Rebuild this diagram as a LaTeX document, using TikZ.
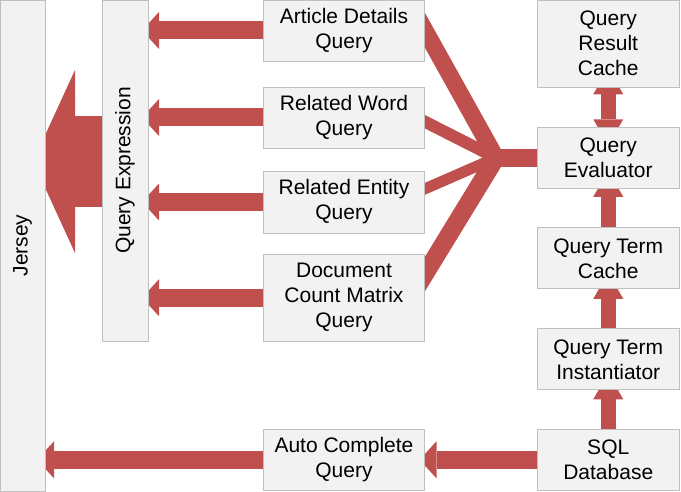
\documentclass[tikz,border=0pt]{standalone}
\usepackage{fontspec}
\setmainfont{Liberation Sans}
\usepackage{graphicx}
\usepackage{tikz}
\usetikzlibrary{arrows.meta, positioning}
\definecolor{arrowred}{HTML}{C0504D}
\definecolor{boxfill}{HTML}{F2F2F2}
\definecolor{boxline}{HTML}{BFBFBF}
\pgfdeclarelayer{bg}
\pgfsetlayers{bg,main}

\begin{document}
\begin{tikzpicture}[
    x=1pt, y=-1pt,
    every node/.style={font=\fontsize{21}{25}\selectfont},
    box/.style={rectangle, draw=boxline, line width=0.8pt, fill=boxfill, outer sep=0pt, inner sep=2pt, align=center},
    midbox/.style={box, minimum width=161pt, minimum height=61pt},
    rightbox/.style={box, minimum width=142.5pt, minimum height=61pt},
    arrow/.style={draw=arrowred, line width=18pt, -{Triangle[length=17pt, width=37pt, line width=0pt]}},
    uparrow/.style={draw=arrowred, line width=15pt, -{Triangle[length=26pt, width=30pt, line width=0pt]}},
    dblarrow/.style={draw=arrowred, line width=15pt, {Triangle[length=26pt, width=30pt, line width=0pt]}-{Triangle[length=26pt, width=30pt, line width=0pt]}},
    bigarrow/.style={draw=arrowred, line width=91pt, -{Triangle[length=42pt, width=183pt, line width=0pt]}},
    fan/.style={draw=arrowred, line cap=butt}
]
    \useasboundingbox (0,0) rectangle (681,492);

    % Left columns
    \node[box, minimum width=45pt, minimum height=491pt] (jersey) at (22.5,245.5) {\rotatebox{90}{Jersey}};
    \node[box, minimum width=46pt, minimum height=341pt] (qexpr) at (125,170.5) {\rotatebox{90}{Query Expression}};

    % Query column
    \node[midbox] (adq) at (344,30.5) {Article Details\\Query};
    \node[midbox, below=26pt of adq] (rwq) {Related Word\\Query};
    \node[midbox, below=23pt of rwq, minimum height=62pt] (req) {Related Entity\\Query};
    \node[midbox, below=21.5pt of req, minimum height=86.5pt] (dcq) {Document\\Count Matrix\\Query};

    % Evaluator column
    \node[rightbox, minimum height=87.3pt] (qrc) at (608.25,43.65) {Query\\Result\\Cache};
    \node[rightbox, below=40pt of qrc] (qeval) {Query\\Evaluator};
    \node[rightbox, below=39.5pt of qeval] (qtc) {Query Term\\Cache};
    \node[rightbox, below=40pt of qtc] (qti) {Query Term\\Instantiator};
    \node[rightbox, below=39.5pt of qti] (sql) {SQL\\Database};
    \node[midbox, left=112.5pt of sql] (acq) {Auto Complete\\Query};

    \coordinate (hub) at ([xshift=-41pt]qeval.west);

    \begin{pgfonlayer}{bg}
    % Arrows into Query Expression
    \draw[arrow, shorten >=-6pt] (adq.west) -- (adq.west -| qexpr.east);
    \draw[arrow, shorten >=-6pt] (rwq.west) -- (rwq.west -| qexpr.east);
    \draw[arrow, shorten >=-6pt] (req.west) -- (req.west -| qexpr.east);
    \draw[arrow, shorten >=-6pt] (dcq.west) -- (dcq.west -| qexpr.east);
    \draw[bigarrow, shorten >=-12pt] ([yshift=9pt]qexpr.west) -- ([yshift=9pt]qexpr.west -| jersey.east);

    % Fan from the evaluator
    \draw[fan, line width=17pt, shorten <=-20pt] ([yshift=1pt]adq.east) -- (hub);
    \draw[fan, line width=12pt, shorten <=-20pt] ([yshift=-4pt]rwq.east) -- (hub);
    \draw[fan, line width=11pt, shorten <=-20pt] ([yshift=13pt]req.east) -- (hub);
    \draw[fan, line width=18pt, shorten <=-20pt] ([yshift=23pt]dcq.east) -- (hub);
    \draw[fan, line width=18pt] (hub) -- (qeval.west);

    % Evaluator stack
    \draw[dblarrow, shorten <=-19pt, shorten >=-18pt] (qrc.south) -- (qeval.north);
    \draw[uparrow, shorten >=-17.5pt] (qtc.north) -- (qeval.south);
    \draw[uparrow, shorten >=-16pt] (qti.north) -- (qtc.south);
    \draw[uparrow, shorten >=-16.5pt] (sql.north) -- (qti.south);

    % Auto complete path
    \draw[arrow, shorten >=-5pt] (sql.west) -- (acq.east);
    \draw[arrow, shorten >=-8pt] (acq.west) -- (acq.west -| jersey.east);
    \end{pgfonlayer}
\end{tikzpicture}
\end{document}
